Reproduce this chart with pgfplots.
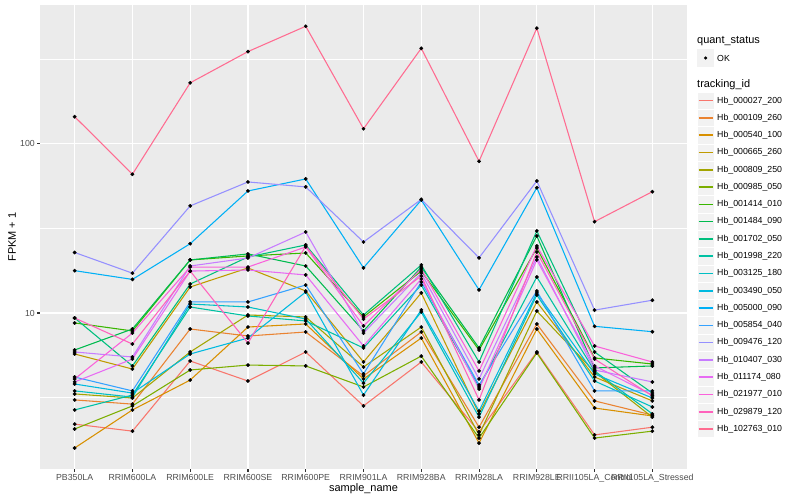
\documentclass[border=0pt]{standalone}
\usepackage{pgfplots}
\pgfplotsset{compat=1.18}
\usepackage{pgfplotstable}
\usepackage{fontspec}
\setmainfont{Liberation Sans}

% ggplot hue palette, 20 levels
\definecolor{c1}{HTML}{F8766D}
\definecolor{c2}{HTML}{EA8331}
\definecolor{c3}{HTML}{D89000}
\definecolor{c4}{HTML}{C09B00}
\definecolor{c5}{HTML}{A3A500}
\definecolor{c6}{HTML}{7CAE00}
\definecolor{c7}{HTML}{39B600}
\definecolor{c8}{HTML}{00BB4E}
\definecolor{c9}{HTML}{00BF7D}
\definecolor{c10}{HTML}{00C1A3}
\definecolor{c11}{HTML}{00BFC4}
\definecolor{c12}{HTML}{00BAE0}
\definecolor{c13}{HTML}{00B0F6}
\definecolor{c14}{HTML}{35A2FF}
\definecolor{c15}{HTML}{9590FF}
\definecolor{c16}{HTML}{C77CFF}
\definecolor{c17}{HTML}{E76BF3}
\definecolor{c18}{HTML}{FA62DB}
\definecolor{c19}{HTML}{FF62BC}
\definecolor{c20}{HTML}{FF6C91}
\definecolor{panelbg}{HTML}{EBEBEB}
\definecolor{keybg}{HTML}{F2F2F2}
\definecolor{ticktxt}{HTML}{4D4D4D}
\definecolor{tickln}{HTML}{333333}

% FPKM + 1, one column per tracking_id, rows = samples 0..10
\pgfplotstableread{
x  s1   s2   s3   s4    s5    s6   s7    s8    s9    s10   s11   s12   s13  s14   s15  s16   s17   s18   s19   s20
0  2.20 3.06 1.59 5.72  3.32  2.06 8.73  6.04  9.34  2.67  3.46  3.80  17.8 4.18  22.8 5.88  3.91  4.07  9.34  145
1  2.00 2.89 2.67 4.66  3.14  2.82 7.83  8.04  4.86  3.27  3.18  3.36  15.8 3.46  17.2 5.49  5.34  7.61  6.55  66.2
2  5.20 8.04 4.01 14.25 5.88  4.60 20.6  20.6  14.84 10.85 11.30 5.72  25.7 11.62 43.0 18.97 17.7  18.7  17.7  230
3  3.96 7.31 8.26 18.46 9.73  4.92 21.75 22.35 21.45 9.60  10.85 7.11  52.7 11.62 59.6 21.15 17.97 18.7  6.64  352
4  5.88 7.72 8.61 13.49 9.47  4.86 22.65 18.97 25.26 8.97  9.21  13.31 62.1 14.64 55.7 30.15 16.79 24.58 24.91 497
5  2.82 4.24 4.07 5.13  4.79  3.65 9.47  7.83  9.73  6.21  3.85  3.27  18.5 4.36  26.3 7.61  6.38  8.38  9.21  123
6  5.13 7.72 7.11 13.14 8.26  5.56 17.7  18.7  19.23 14.64 10.14 10.42 46.6 15.25 47.0 17.24 15.89 18.21 16.55 368
7  1.98 2.11 1.70 2.53  1.90  1.82 6.04  6.21  5.13  3.65  2.42  2.63  13.7 3.75  21.2 4.07  3.55  4.54  3.06  79
8  5.88 8.61 8.04 11.62 10.28 5.80 24.25 28.55 30.58 16.33 12.78 13.14 55.1 13.49 60.4 21.45 20.6  24.91 22.96 484
9  1.90 3.02 2.74 4.18  4.48  1.82 5.42  4.73  5.88  4.54  3.96  4.36  8.34 3.46  10.4 4.60  4.86  6.38  5.34  34.7
10 2.11 2.49 2.46 3.02  2.42  2.00 4.99  4.86  3.36  2.53  2.78  3.14  7.75 3.46  11.9 3.91  3.27  5.13  3.23  52.2
}\fpkm

\begin{document}
\begin{tikzpicture}
\begin{axis}[
  scale only axis,
  width=647bp, height=464bp,
  ymode=log,
  xmin=-0.6, xmax=10.6,
  ymin=1.194, ymax=664,
  xtick={0,...,10},
  xticklabels={PB350LA,RRIM600LA,RRIM600LE,RRIM600SE,RRIM600PE,RRIM901LA,RRIM928BA,RRIM928LA,RRIM928LE,RRII105LA\_Control,RRII105LA\_Stressed},
  ytick={10,100},
  yticklabels={10,100},
  minor ytick={3.1623,31.623,316.23},
  minor xtick={},
  xtick pos=bottom, ytick pos=left,
  grid=both,
  major grid style={white, line width=1.07bp},
  minor grid style={white, line width=0.53bp},
  axis background/.style={fill=panelbg},
  axis line style={draw=none},
  tick align=outside,
  major tick length=2.75bp,
  minor tick length=0pt,
  tick style={tickln, line width=1.07bp},
  xticklabel style={font=\fontsize{8.8}{10}\selectfont, text=ticktxt, inner sep=0pt, yshift=-2.2bp},
  yticklabel style={font=\fontsize{8.8}{10}\selectfont, text=ticktxt, inner sep=0pt, xshift=-2.2bp},
  xlabel={sample\_name},
  ylabel={FPKM + 1},
  label style={font=\fontsize{11}{13}\selectfont},
  xlabel style={at={(axis description cs:0.5,-0.0431)}, anchor=center},
  ylabel style={at={(axis description cs:-0.0433,0.5)}, anchor=center},
]
\pgfplotsinvokeforeach{1,...,20}{
  \addplot[color=c#1, line width=1.07bp, no marks] table[x=x, y=s#1] {\fpkm};
}
\pgfplotsinvokeforeach{1,...,20}{
  \addplot[only marks, mark=*, mark size=1.7bp, black] table[x=x, y=s#1] {\fpkm};
}
\end{axis}

% legend
\node[anchor=west, inner sep=0pt, font=\fontsize{11}{13}\selectfont] at (657bp,428.3bp) {quant\_status};
\fill[keybg] (657bp,402.4bp) rectangle (674.3bp,419.7bp);
\fill[black] (665.6bp,411bp) circle (1.7bp);
\node[anchor=west, inner sep=0pt, font=\fontsize{8.8}{10}\selectfont] at (677bp,411bp) {OK};
\node[anchor=west, inner sep=0pt, font=\fontsize{11}{13}\selectfont] at (657bp,384.7bp) {tracking\_id};
\foreach \nm [count=\i] in {Hb\_000027\_200,Hb\_000109\_260,Hb\_000540\_100,Hb\_000665\_260,Hb\_000809\_250,Hb\_000985\_050,Hb\_001414\_010,Hb\_001484\_090,Hb\_001702\_050,Hb\_001998\_220,Hb\_003125\_180,Hb\_003490\_050,Hb\_005000\_090,Hb\_005854\_040,Hb\_009476\_120,Hb\_010407\_030,Hb\_011174\_080,Hb\_021977\_010,Hb\_029879\_120,Hb\_102763\_010}{
  \pgfmathsetmacro\yy{368.3-17.28*(\i-1)}
  \pgfmathsetmacro\ylo{\yy-8.64}
  \pgfmathsetmacro\yhi{\yy+8.64}
  \fill[keybg, draw=white, line width=0.5bp] (657bp,\ylo bp) rectangle (674.3bp,\yhi bp);
  \draw[color=c\i, line width=1.6bp] (658.7bp,\yy bp) -- (672.6bp,\yy bp);
  \node[anchor=west, inner sep=0pt, font=\fontsize{8.8}{10}\selectfont] at (677bp,\yy bp) {\nm};
}

\pgfresetboundingbox
\path[use as bounding box] (-40bp,-31bp) rectangle (760bp,469bp);
\end{tikzpicture}
\end{document}
